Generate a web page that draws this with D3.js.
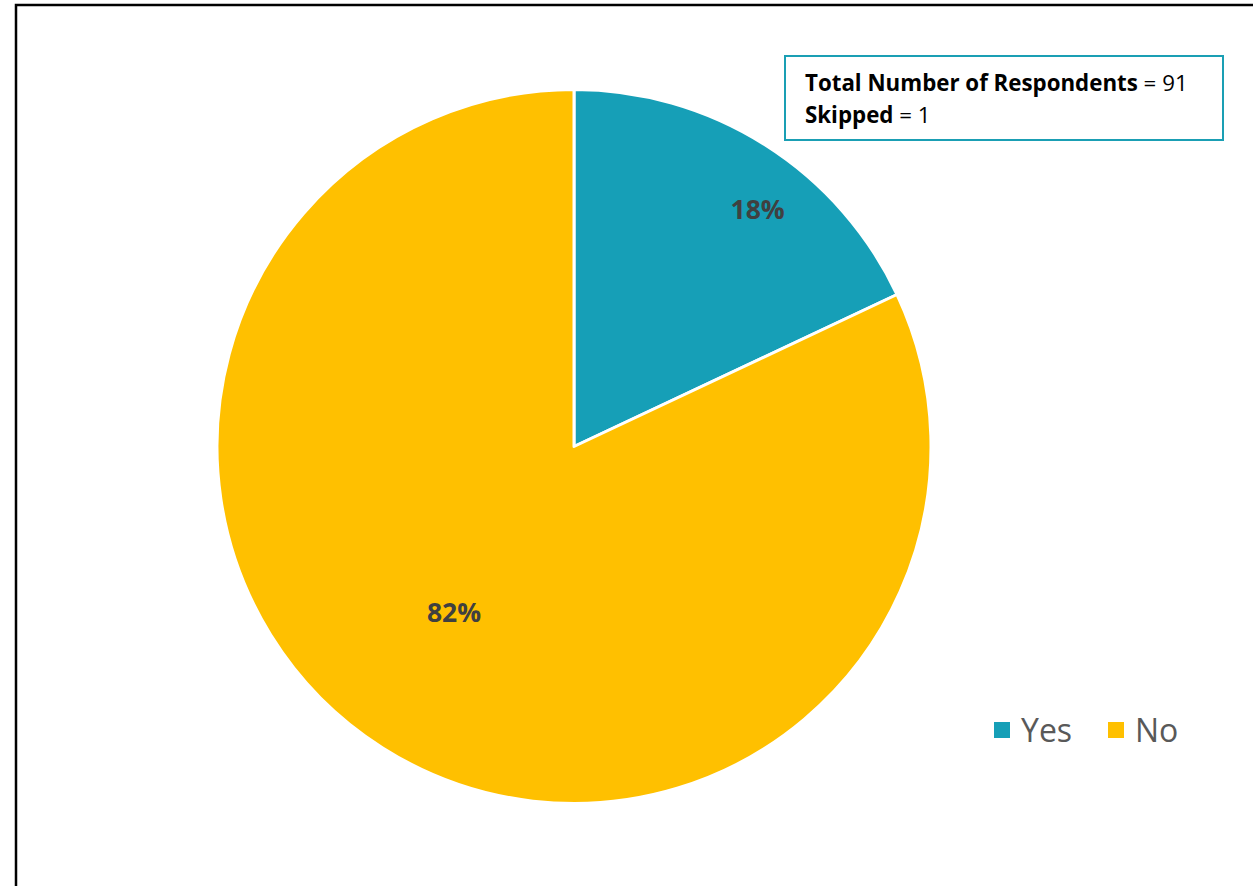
<!DOCTYPE html>
<html>
<head>
<meta charset="utf-8">
<script src="https://cdn.jsdelivr.net/npm/d3@7"></script>
<style>
  body { margin: 0; background: #fff; }
  text { font-family: "Open Sans", "Noto Sans", sans-serif; }
</style>
</head>
<body>
<script>
// chart data
const categories = ['Yes', 'No'];
const values = [18, 82];
const colors = ['#169FB7', '#FFC000'];
const totalRespondents = 91;
const skipped = 1;

const width = 1253;
const height = 886;
const cx = 574, cy = 446.5, radius = 357;

const svg = d3.select('body')
    .append('svg')
    .attr('width', width)
    .attr('height', height);

// outer frame (right and bottom edges fall outside the picture)
svg.append('rect')
    .attr('x', 16)
    .attr('y', 5)
    .attr('width', width + 20)
    .attr('height', height + 20)
    .attr('fill', '#fff')
    .attr('stroke', '#000')
    .attr('stroke-width', 2.5);

const pie = d3.pie().sort(null).value(d => d);
const arcs = pie(values);
const arc = d3.arc().innerRadius(0).outerRadius(radius);

const g = svg.append('g')
    .attr('transform', `translate(${cx},${cy})`);

g.selectAll('path')
    .data(arcs)
    .enter()
    .append('path')
    .attr('d', arc)
    .attr('fill', (d, i) => colors[i])
    .attr('stroke', '#fff')
    .attr('stroke-width', 3)
    .attr('stroke-linejoin', 'round');

// data labels: polar spot relative to slice mid angle (best fit in the original)
const labelPlace = [{ r: 300, shift: 0.093 }, { r: 205, shift: 0.06 }];
g.selectAll('.lbl')
    .data(arcs)
    .enter()
    .append('text')
    .attr('class', 'lbl')
    .attr('transform', (d, i) => {
        const a = (d.startAngle + d.endAngle) / 2 + labelPlace[i].shift;
        const r = labelPlace[i].r;
        return `translate(${r * Math.sin(a)},${-r * Math.cos(a)})`;
    })
    .attr('dy', '0.35em')
    .attr('text-anchor', 'middle')
    .attr('font-size', 26.5)
    .attr('font-weight', 'bold')
    .attr('fill', '#404040')
    .text(d => d3.format('.0f')(d.data) + '%');

// info box
const box = svg.append('g').attr('transform', 'translate(785,56)');
box.append('rect')
    .attr('width', 438)
    .attr('height', 84)
    .attr('fill', '#fff')
    .attr('stroke', '#1A9FB4')
    .attr('stroke-width', 2);

const line1 = box.append('text')
    .attr('x', 20)
    .attr('y', 35)
    .attr('font-size', 22.3)
    .attr('fill', '#000');
line1.append('tspan').attr('font-weight', 'bold').text('Total Number of Respondents');
line1.append('tspan').text(' = ' + totalRespondents);

const line2 = box.append('text')
    .attr('x', 20)
    .attr('y', 67)
    .attr('font-size', 22.3)
    .attr('fill', '#000');
line2.append('tspan').attr('font-weight', 'bold').text('Skipped');
line2.append('tspan').text(' = ' + skipped);

// legend
const legendX = [994, 1108];
const legend = svg.selectAll('.legend')
    .data(categories)
    .enter()
    .append('g')
    .attr('class', 'legend')
    .attr('transform', (d, i) => `translate(${legendX[i]},722)`);

legend.append('rect')
    .attr('width', 16)
    .attr('height', 16)
    .attr('fill', (d, i) => colors[i]);

legend.append('text')
    .attr('x', 27)
    .attr('y', 20)
    .attr('font-size', 32)
    .attr('fill', '#595959')
    .text(d => d);
</script>
</body>
</html>
